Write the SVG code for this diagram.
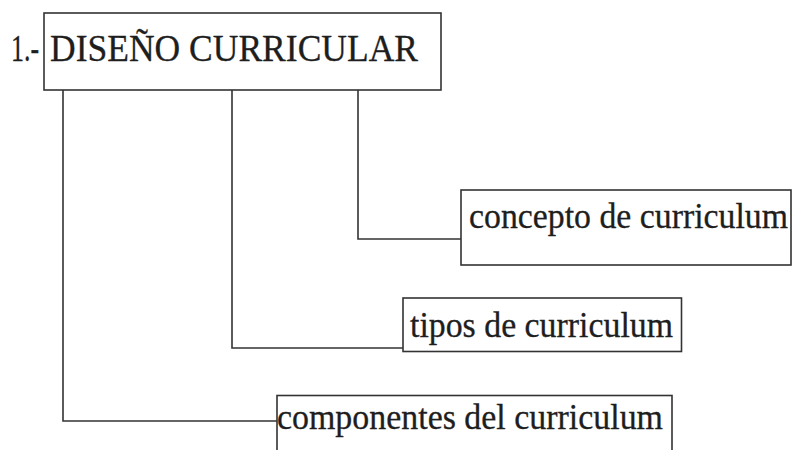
<svg xmlns="http://www.w3.org/2000/svg" width="794" height="450" viewBox="0 0 794 450">
  <style>
    .box { fill: none; stroke: #333; stroke-width: 1.6; }
    .conn { fill: none; stroke: #333; stroke-width: 1.6; }
    .t { font-family: "Liberation Serif", "Times New Roman", serif; fill: #1e1e1e; stroke: #1e1e1e; stroke-width: 0.3; }
    .title { font-size: 36px; }
    .lbl { font-size: 34px; }
  </style>
  <rect width="794" height="450" fill="#ffffff"/>
  <g id="connectors">
    <polyline class="conn" points="63,90 63,421 277,421"/>
    <polyline class="conn" points="232,90 232,348 403,348"/>
    <polyline class="conn" points="358,90 358,239 461,239"/>
  </g>
  <g id="node-diseno">
    <text class="t title" transform="translate(11,61) scale(1,1.08)" x="0" y="0" textLength="28" lengthAdjust="spacingAndGlyphs">1.-</text>
    <rect class="box" x="44" y="13" width="397" height="77"/>
    <text class="t title" transform="translate(50,61) scale(1,1.08)" x="0" y="0" textLength="368" lengthAdjust="spacingAndGlyphs">DISEÑO CURRICULAR</text>
  </g>
  <g id="node-concepto">
    <rect class="box" x="461" y="190" width="330" height="75"/>
    <text class="t lbl" transform="translate(469,228) scale(1,1.08)" x="0" y="0" textLength="319" lengthAdjust="spacingAndGlyphs">concepto de curriculum</text>
  </g>
  <g id="node-tipos">
    <rect class="box" x="403" y="298" width="278.5" height="53.5"/>
    <text class="t lbl" transform="translate(410,337) scale(1,1.08)" x="0" y="0" textLength="263" lengthAdjust="spacingAndGlyphs">tipos de curriculum</text>
  </g>
  <g id="node-componentes">
    <rect class="box" x="277" y="395.5" width="395" height="70"/>
    <text class="t lbl" transform="translate(277,429) scale(1,1.08)" x="0" y="0" textLength="386" lengthAdjust="spacingAndGlyphs">componentes del curriculum</text>
  </g>
</svg>
